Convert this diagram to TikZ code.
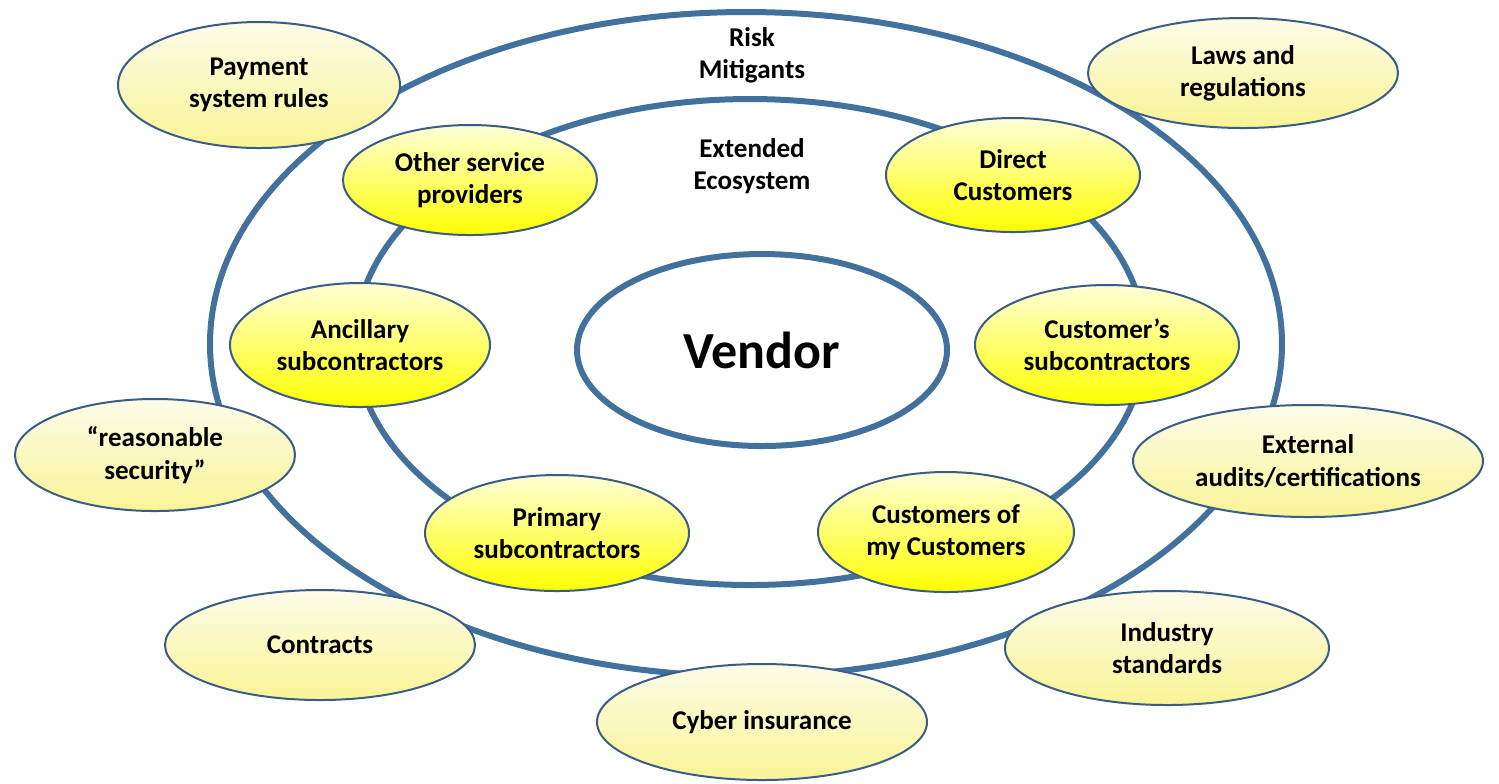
\documentclass[tikz,border=0pt]{standalone}
\usepackage{fontspec}
\setmainfont{Carlito}
\usetikzlibrary{shapes.geometric}

\definecolor{ringblue}{RGB}{65,113,156}
\definecolor{edgeblue}{RGB}{58,92,135}
\definecolor{paletop}{RGB}{252,252,232}
\definecolor{palebot}{RGB}{249,244,150}
\definecolor{brighttop}{RGB}{255,255,215}
\definecolor{brightbot}{RGB}{255,255,0}

\tikzset{
	ring/.style={ellipse, draw=ringblue, line width=0.6mm, inner sep=0pt},
	mitigant/.style={ellipse, draw=edgeblue, line width=0.2mm, inner sep=0pt,
		top color=paletop, bottom color=palebot, align=center,
		font=\bfseries\fontsize{7.7}{9.2}\selectfont},
	partner/.style={mitigant, top color=brighttop, bottom color=brightbot},
	caption/.style={align=center, font=\bfseries\fontsize{7.7}{9.2}\selectfont}
}

\begin{document}
\begin{tikzpicture}[x=0.1mm, y=-0.1mm]
		\useasboundingbox (0,0) rectangle (1499,783);

		% the two rings and the vendor in the middle
		\node[ring, minimum width=107.2mm, minimum height=66.4mm] (outer) at (746,344) {};
		\node[ring, minimum width=79mm, minimum height=48.6mm] (inner) at (750,342) {};
		\node[ring, fill=white, minimum width=37mm, minimum height=19.2mm,
			font=\bfseries\fontsize{14.8}{17}\selectfont] (vendor) at (762,350) {Vendor};

		\node[caption] (risklbl) at (752,55) {Risk\\Mitigants};
		\node[caption] (ecolbl) at (752,166) {Extended\\Ecosystem};

		% extended ecosystem
		\node[partner, minimum width=25.4mm, minimum height=11mm] (others) at (470,180) {Other service\\providers};
		\node[partner, minimum width=25.4mm, minimum height=11.4mm] (direct) at (1013,175) {Direct\\Customers};
		\node[partner, minimum width=26mm, minimum height=12.4mm] (ancillary) at (360,345) {Ancillary\\subcontractors};
		\node[partner, minimum width=26.4mm, minimum height=12mm] (custsub) at (1107,345) {Customer's\\subcontractors};
		\node[partner, minimum width=26.4mm, minimum height=11.6mm] (primary) at (557,533) {Primary\\subcontractors};
		\node[partner, minimum width=25.6mm, minimum height=12mm] (custcust) at (946,532) {Customers of\\my Customers};

		% risk mitigants
		\node[mitigant, minimum width=28.2mm, minimum height=12.6mm] (payment) at (259,85) {Payment\\system rules};
		\node[mitigant, minimum width=31mm, minimum height=11mm] (laws) at (1243,73) {Laws and\\regulations};
		\node[mitigant, minimum width=28mm, minimum height=11.2mm] (reasonable) at (155,455) {``reasonable\\security''};
		\node[mitigant, minimum width=35mm, minimum height=11.2mm] (audits) at (1308,461) {External\\audits/certifications};
		\node[mitigant, minimum width=31mm, minimum height=11mm] (contracts) at (320,645) {Contracts};
		\node[mitigant, minimum width=32.4mm, minimum height=11.4mm] (industry) at (1167,648) {Industry\\standards};
		\node[mitigant, minimum width=33mm, minimum height=11.6mm] (cyber) at (762,722) {Cyber insurance};

	\end{tikzpicture}
\end{document}
